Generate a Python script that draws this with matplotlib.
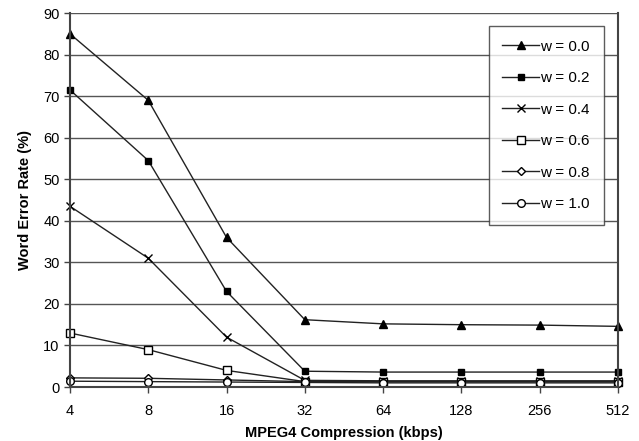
from matplotlib import pyplot as plt
import numpy as np

rates = ['4', '8', '16', '32', '64', '128', '256', '512']

wer_00 = [85, 69, 36, 16.2, 15.2, 15.0, 14.9, 14.6]
wer_02 = [71.5, 54.5, 23, 3.8, 3.6, 3.6, 3.6, 3.6]
wer_04 = [43.5, 31, 12, 1.6, 1.5, 1.5, 1.5, 1.5]
wer_06 = [13, 9, 4, 1.3, 1.3, 1.3, 1.3, 1.3]
wer_08 = [2.2, 2.1, 1.7, 1.3, 1.3, 1.3, 1.3, 1.3]
wer_10 = [1.4, 1.3, 1.2, 1.1, 1.0, 1.0, 1.0, 1.0]

labels = ['w = 0.0', 'w = 0.2', 'w = 0.4', 'w = 0.6', 'w = 0.8', 'w = 1.0']
series = [wer_00, wer_02, wer_04, wer_06, wer_08, wer_10]
markers = ['^', 's', 'x', 's', 'D', 'o']
faces = ['black', 'black', 'black', 'white', 'white', 'white']
sizes = [5.5, 5, 6, 5.5, 4.5, 5.5]

plt.rcParams['font.family'] = ['Liberation Sans', 'DejaVu Sans']

fig = plt.figure(figsize = (6.39, 4.41), dpi = 100)
ax = fig.add_axes([0.1095, 0.1224, 0.8576, 0.848])

x = np.arange(len(rates))
for y, lab, m, fc, ms in zip(series, labels, markers, faces, sizes):
    ax.plot(x, y, color = '#222222', linewidth = 1, marker = m, markersize = ms,
            markerfacecolor = fc, markeredgecolor = 'black', markeredgewidth = 1,
            label = lab, clip_on = False)

ax.set_xlim(0, len(rates) - 1)
ax.set_ylim(0, 90)
ax.set_xticks(x)
ax.set_xticklabels(rates)
ax.set_yticks(np.arange(0, 91, 10))
ax.yaxis.grid(True, color = '#555555', linewidth = 1)
ax.set_axisbelow(True)
for s in ['left', 'bottom', 'right']:
    ax.spines[s].set_color('#444444')
    ax.spines[s].set_linewidth(1.5)
ax.spines['top'].set_visible(False)
ax.tick_params(axis = 'both', labelsize = 10.5, color = '#444444', length = 4, width = 1)
ax.tick_params(axis = 'x', pad = 8)

ax.set_xlabel('MPEG4 Compression (kbps)', fontsize = 10.5, fontweight = 'bold', labelpad = 6)
ax.set_ylabel('Word Error Rate (%)', fontsize = 10.5, fontweight = 'bold', labelpad = 8)

leg = ax.legend(loc = 'upper right', bbox_to_anchor = (0.974, 0.966), fontsize = 11,
                frameon = True, fancybox = False, edgecolor = '#333333',
                handlelength = 2.4, labelspacing = 1.15, borderpad = 0.9,
                handletextpad = 0.1, borderaxespad = 0)
leg.get_frame().set_linewidth(1)

plt.savefig('out.png', dpi = 100)
